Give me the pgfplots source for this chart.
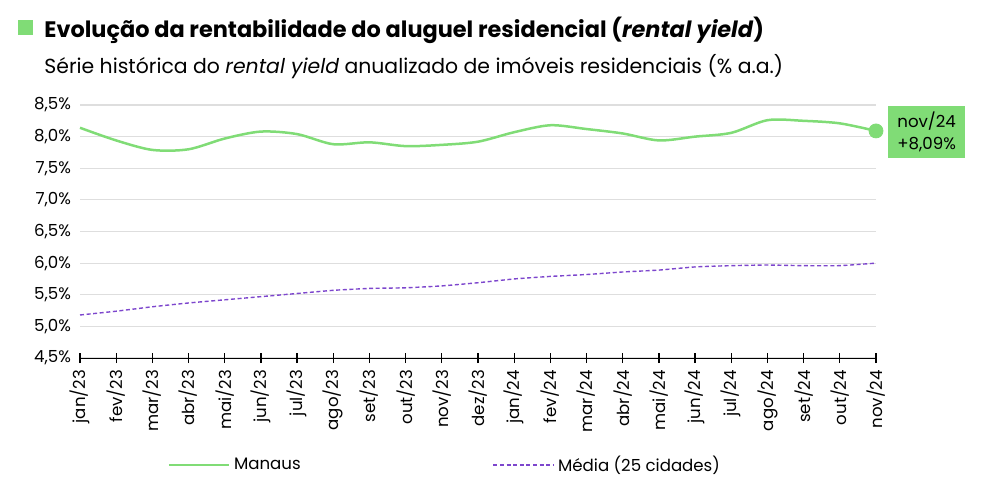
\documentclass[border=0pt]{standalone}
\usepackage{pgfplots}
\pgfplotsset{compat=1.18}
\usepackage{fontspec}
\setmainfont{Poppins}
\definecolor{verde}{RGB}{128,220,118}
\definecolor{roxo}{RGB}{125,70,205}
\definecolor{grade}{RGB}{222,222,222}
\begin{document}
\begin{tikzpicture}[x=0.5pt,y=0.5pt]
\useasboundingbox (0,0) rectangle (981,488);
% titulo
\fill[verde] (18,453) rectangle (33,468);
\node[anchor=base west,inner sep=0pt,font=\bfseries\fontsize{11.2}{13}\selectfont] at (44,450) {Evolução da rentabilidade do aluguel residencial (\textit{rental yield})};
\node[anchor=base west,inner sep=0pt,font=\fontsize{10.2}{12}\selectfont] at (44,414) {Série histórica do \textit{rental yield} anualizado de imóveis residenciais (\% a.a.)};
\begin{axis}[
  at={(40pt,65pt)},anchor=south west,
  scale only axis,width=398pt,height=126.5pt,
  xmin=0,xmax=22,ymin=4.5,ymax=8.5,
  axis x line=bottom,axis y line=left,
  x axis line style={black,-},
  y axis line style={draw=none},
  xtick={0,...,22},
  xticklabels={jan/23,fev/23,mar/23,abr/23,mai/23,jun/23,jul/23,ago/23,set/23,out/23,nov/23,dez/23,jan/24,fev/24,mar/24,abr/24,mai/24,jun/24,jul/24,ago/24,set/24,out/24,nov/24},
  x tick label style={rotate=90,anchor=east,font=\fontsize{8.3}{10}\selectfont},
  tick align=center,major tick length=5pt,
  xtick style={black,line width=0.6pt},
  ytick={4.5,5,...,8.5},
  ymajorgrids,grid style={grade,line width=0.6pt},
  ytick style={draw=none},
  yticklabel={\pgfmathprintnumber[fixed,fixed zerofill,precision=1,use comma]{\tick}\%},
  y tick label style={font=\fontsize{8.3}{10}\selectfont,xshift=1.5pt},
  /pgf/number format/assume math mode=true,
  clip=false,
  legend style={at={(0.102,-0.423)},anchor=west,draw=none,fill=none,
    legend columns=2,font=\fontsize{8.3}{10}\selectfont,
    /tikz/every even column/.append style={column sep=94pt}},
  legend cell align=left,
  legend image code/.code={\draw[#1] (0pt,0pt) -- (30pt,0pt);},
]
\addplot[verde,line width=1.25pt,smooth,tension=0.5] coordinates {
(0,8.14) (1,7.94) (2,7.79) (3,7.80) (4,7.97) (5,8.08) (6,8.04) (7,7.88)
(8,7.91) (9,7.85) (10,7.87) (11,7.92) (12,8.07) (13,8.18) (14,8.12)
(15,8.05) (16,7.94) (17,8.00) (18,8.06) (19,8.26) (20,8.25) (21,8.21) (22,8.09)};
\addlegendentry{Manaus}
\addplot[roxo,line width=0.7pt,dash pattern=on 2pt off 1.3pt,smooth,tension=0.3] coordinates {
(0,5.18) (1,5.24) (2,5.31) (3,5.37) (4,5.42) (5,5.47) (6,5.52) (7,5.57)
(8,5.60) (9,5.61) (10,5.64) (11,5.69) (12,5.75) (13,5.79) (14,5.82)
(15,5.86) (16,5.89) (17,5.94) (18,5.96) (19,5.97) (20,5.96) (21,5.96) (22,6.00)};
\addlegendentry{Média (25 cidades)}
\addplot[verde,only marks,mark=*,mark size=3.5pt,forget plot] coordinates {(22,8.09)};
\node[fill=verde,anchor=west,align=center,inner xsep=4.5pt,inner ysep=3pt,
  font=\fontsize{8.3}{11}\selectfont] at (axis cs:22.33,8.07) {nov/24\\+8,09\%};
\end{axis}
\end{tikzpicture}
\end{document}
